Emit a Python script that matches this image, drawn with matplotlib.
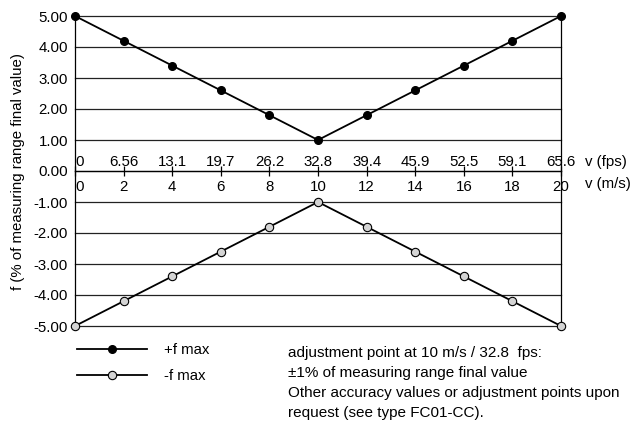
import numpy as np
import matplotlib.pyplot as plt
from matplotlib.lines import Line2D

plt.rcParams['font.family'] = ['Liberation Sans', 'DejaVu Sans']
plt.rcParams['axes.unicode_minus'] = False

# data
speed_ms = [0, 2, 4, 6, 8, 10, 12, 14, 16, 18, 20]
fps_labels = ['0', '6.56', '13.1', '19.7', '26.2', '32.8', '39.4', '45.9', '52.5', '59.1', '65.6']
f_plus = [5.0, 4.2, 3.4, 2.6, 1.8, 1.0, 1.8, 2.6, 3.4, 4.2, 5.0]
f_minus = [-5.0, -4.2, -3.4, -2.6, -1.8, -1.0, -1.8, -2.6, -3.4, -4.2, -5.0]
y_ticks = [-5, -4, -3, -2, -1, 0, 1, 2, 3, 4, 5]

fs = 10.8

fig = plt.figure(figsize=(6.43, 4.21), dpi=100)
ax = fig.add_axes([75/643, 1 - 326/421, (561 - 75)/643, (326 - 16)/421])

ax.set_xlim(0, 20)
ax.set_ylim(-5, 5)

# horizontal grid
for y in y_ticks:
    ax.axhline(y, color='#222222', lw=0.9, zorder=1, clip_on=False)

ax.plot(speed_ms, f_plus, color='black', lw=1.3, marker='o', ms=5.5,
        mfc='black', mec='black', zorder=3, clip_on=False)
ax.plot(speed_ms, f_minus, color='black', lw=1.3, marker='o', ms=6,
        mfc='#d4d4d4', mec='black', mew=0.8, zorder=3, clip_on=False)

ax.spines['top'].set_visible(False)
ax.spines['bottom'].set_position(('data', 0))
for s in ['bottom', 'left', 'right']:
    ax.spines[s].set_linewidth(0.9)

ax.set_yticks(y_ticks)
ax.set_yticklabels(['%.2f' % v for v in y_ticks], fontsize=fs)
ax.tick_params(axis='y', length=0, pad=5)

ax.set_xticks(speed_ms)
ax.set_xticklabels([str(v) for v in speed_ms], fontsize=fs)
ax.tick_params(axis='x', direction='inout', length=7, width=0.9, pad=3)
ax.get_xticklabels()[0].set_ha('left')

# fps labels above the middle axis
for i, (x, lab) in enumerate(zip(speed_ms, fps_labels)):
    ax.annotate(lab, (x, 0), xytext=(0, 6.5), textcoords='offset points',
                ha='left' if i == 0 else 'center', va='center', fontsize=fs)

ax.annotate('v (fps)', (20, 0), xytext=(17, 6.5), textcoords='offset points',
            ha='left', va='center', fontsize=fs)
ax.annotate('v (m/s)', (20, 0), xytext=(17, -9.5), textcoords='offset points',
            ha='left', va='center', fontsize=fs)

ax.set_ylabel('f (% of measuring range final value)', fontsize=fs, labelpad=6)

handles = [
    Line2D([], [], color='black', lw=1.3, marker='o', ms=5.5, mfc='black', mec='black'),
    Line2D([], [], color='black', lw=1.3, marker='o', ms=6, mfc='#d4d4d4', mec='black', mew=0.8),
]
fig.legend(handles, ['+f max', '-f max'], loc='upper left',
           bbox_to_anchor=(63/643, 1 - 330/421), frameon=False, fontsize=fs,
           handlelength=4.7, handletextpad=1.1, labelspacing=0.75, numpoints=1)

fig.text(288/643, 1 - 346/421,
         'adjustment point at 10 m/s / 32.8  fps:\n'
         '\u00b11% of measuring range final value\n'
         'Other accuracy values or adjustment points upon\n'
         'request (see type FC01-CC).',
         ha='left', va='top', fontsize=11, linespacing=1.55)

fig.savefig('out.png', dpi=100)
